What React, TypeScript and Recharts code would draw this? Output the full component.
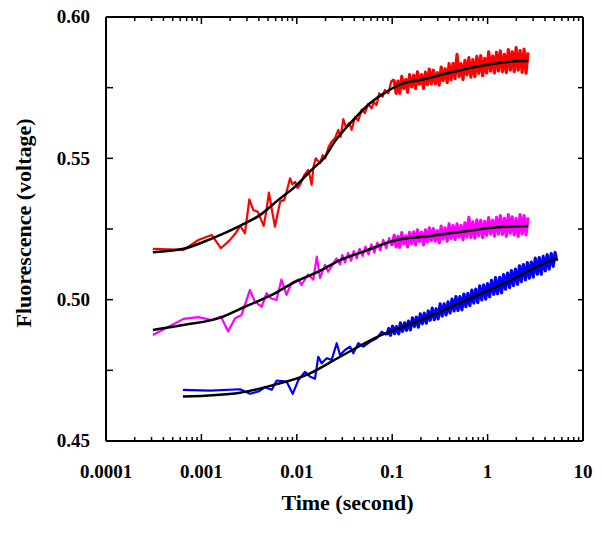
import React from 'react';
import { LineChart, Line, XAxis, YAxis, Label } from 'recharts';

const FONT = '"Liberation Serif", "Times New Roman", Times, serif';

// ---- axis ticks ----
const X_MAJOR = [0.0001, 0.001, 0.01, 0.1, 1, 10];
const X_MAJOR_LABELS = ['0.0001', '0.001', '0.01', '0.1', '1', '10'];
const X_TICKS = [
  0.0001, 0.0002, 0.0003, 0.0004, 0.0005, 0.0006, 0.0007, 0.0008, 0.0009,
  0.001, 0.002, 0.003, 0.004, 0.005, 0.006, 0.007, 0.008, 0.009,
  0.01, 0.02, 0.03, 0.04, 0.05, 0.06, 0.07, 0.08, 0.09,
  0.1, 0.2, 0.3, 0.4, 0.5, 0.6, 0.7, 0.8, 0.9,
  1, 2, 3, 4, 5, 6, 7, 8, 9, 10,
];
const Y_MAJOR = [0.45, 0.5, 0.55, 0.6];
const Y_MAJOR_LABELS = ['0.45', '0.50', '0.55', '0.60'];
const Y_TICKS = [0.45, 0.475, 0.5, 0.525, 0.55, 0.575, 0.6];

// ---- red trace ----
const RED_T = [
  0.00031, 0.00065, 0.00093, 0.00128, 0.0016, 0.00195, 0.00225, 0.00255, 0.00286, 0.00318,
  0.0035, 0.0039, 0.0042, 0.0045, 0.0048, 0.0051, 0.0055, 0.0059, 0.0063, 0.0067,
  0.0074, 0.008, 0.0085, 0.009, 0.0096, 0.0102, 0.0108, 0.012, 0.0132, 0.0138,
  0.0143, 0.015, 0.0158, 0.0175, 0.0187, 0.0198, 0.0215, 0.0232, 0.0251, 0.0272,
  0.0288, 0.0307, 0.0327, 0.0355, 0.0376, 0.0408, 0.0441, 0.0478, 0.0518, 0.0561,
  0.0608, 0.0643, 0.0685, 0.073, 0.0794, 0.0838, 0.091, 0.0988,
];
const RED_V = [
  0.518, 0.5176, 0.5211, 0.5229, 0.5182, 0.5208, 0.5232, 0.5261, 0.5235, 0.5355,
  0.5317, 0.5311, 0.5285, 0.5261, 0.5315, 0.5379, 0.5315, 0.5258, 0.5305, 0.5347,
  0.5353, 0.5395, 0.5429, 0.5408, 0.5417, 0.5395, 0.5406, 0.5441, 0.5459, 0.5433,
  0.5406, 0.5472, 0.55, 0.5483, 0.5511, 0.55, 0.554, 0.5559, 0.5571, 0.5601,
  0.5576, 0.5639, 0.561, 0.5625, 0.5601, 0.5646, 0.5633, 0.5672, 0.566, 0.5693,
  0.5677, 0.57, 0.5688, 0.573, 0.5718, 0.5742, 0.573, 0.5777,
];
// dense late part (shared sampling of red and magenta)
const RM_BAND_T = [
  0.105, 0.11, 0.115, 0.12, 0.126, 0.132, 0.139, 0.145, 0.152, 0.16,
  0.168, 0.176, 0.184, 0.193, 0.203, 0.213, 0.223, 0.234, 0.245, 0.257,
  0.27, 0.283, 0.297, 0.311, 0.326, 0.342, 0.359, 0.377, 0.395, 0.414,
  0.435, 0.456, 0.478, 0.502, 0.526, 0.552, 0.579, 0.607, 0.637, 0.668,
  0.7, 0.735, 0.771, 0.808, 0.848, 0.889, 0.933, 0.978, 1.026, 1.076,
  1.13, 1.18, 1.24, 1.3, 1.36, 1.43, 1.5, 1.57, 1.65, 1.73,
  1.81, 1.9, 1.99, 2.09, 2.19, 2.3, 2.41, 2.53, 2.65,
];
const RED_BAND_V = [
  0.5774, 0.573, 0.5773, 0.573, 0.579, 0.5747, 0.5779, 0.5734, 0.5796, 0.5753,
  0.5794, 0.5747, 0.5806, 0.5762, 0.5796, 0.5747, 0.5805, 0.5761, 0.5816, 0.5764,
  0.5812, 0.5764, 0.5803, 0.5759, 0.5823, 0.5775, 0.5817, 0.5768, 0.5835, 0.5778,
  0.5836, 0.5782, 0.5868, 0.5789, 0.5835, 0.5779, 0.5847, 0.5795, 0.5856, 0.5787,
  0.5849, 0.5789, 0.5861, 0.5801, 0.5863, 0.5792, 0.5854, 0.5802, 0.5877, 0.5809,
  0.5862, 0.5802, 0.5875, 0.5809, 0.588, 0.5807, 0.5868, 0.5803, 0.5885, 0.5812,
  0.5877, 0.5807, 0.5892, 0.5812, 0.5881, 0.5804, 0.5886, 0.5801, 0.5875,
];

// ---- magenta trace ----
const MAG_T = [
  0.00031, 0.00065, 0.00093, 0.00128, 0.0016, 0.00191, 0.00225, 0.00264, 0.00322, 0.00363,
  0.00428, 0.00482, 0.00535, 0.00612, 0.0069, 0.0078, 0.00878, 0.0104, 0.0112, 0.0131,
  0.0149, 0.0162, 0.0175, 0.0198, 0.0213, 0.0261,
  0.0284, 0.03, 0.032, 0.0345, 0.037, 0.0395, 0.0425, 0.0455, 0.049, 0.0525,
  0.0565, 0.0605, 0.065, 0.07, 0.075, 0.0805, 0.0865, 0.093, 0.099,
];
const MAG_V = [
  0.4875, 0.4932, 0.4938, 0.4928, 0.494, 0.4887, 0.4934, 0.4946, 0.5034, 0.4993,
  0.4975, 0.5023, 0.5005, 0.4999, 0.5071, 0.5017, 0.5059, 0.5071, 0.5052, 0.5089,
  0.5071, 0.5152, 0.5077, 0.5123, 0.5099, 0.5146,
  0.5125, 0.5158, 0.5132, 0.5165, 0.5138, 0.5172, 0.5146, 0.518, 0.5155, 0.5188,
  0.516, 0.5196, 0.5166, 0.5202, 0.5174, 0.5212, 0.5182, 0.5218, 0.519,
];
const MAG_BAND_V = [
  0.5228, 0.5187, 0.5224, 0.5185, 0.5237, 0.5198, 0.5226, 0.5187, 0.5238, 0.5199,
  0.524, 0.5194, 0.5247, 0.5206, 0.5239, 0.5194, 0.5247, 0.5205, 0.5254, 0.5209,
  0.5251, 0.5207, 0.5244, 0.5201, 0.526, 0.5215, 0.5254, 0.5207, 0.5268, 0.5217,
  0.5262, 0.5213, 0.5268, 0.5221, 0.5263, 0.5212, 0.5272, 0.5222, 0.5291, 0.522,
  0.5275, 0.5218, 0.5282, 0.5227, 0.5281, 0.522, 0.5277, 0.5228, 0.529, 0.5232,
  0.5281, 0.5225, 0.5291, 0.5232, 0.5297, 0.5231, 0.5288, 0.5224, 0.5301, 0.5235,
  0.5293, 0.5229, 0.5288, 0.5224, 0.5301, 0.5233, 0.5297, 0.5229, 0.5291,
];

// ---- blue trace ----
const BLUE_T = [
  0.00064, 0.00123, 0.00254, 0.00323, 0.00395, 0.00464, 0.00546, 0.00616, 0.00783, 0.00906,
  0.0104, 0.0122, 0.0137, 0.0155, 0.0168, 0.0182, 0.0206, 0.0232, 0.0262, 0.0284,
  0.032, 0.0361, 0.0391, 0.0441, 0.0498, 0.0585, 0.0688, 0.0777, 0.0875,
];
const BLUE_V = [
  0.4681, 0.4678, 0.4683, 0.4667, 0.4675, 0.469, 0.4681, 0.4714, 0.471, 0.4667,
  0.4716, 0.4745, 0.4728, 0.472, 0.4798, 0.4775, 0.4793, 0.4787, 0.4846, 0.4804,
  0.4822, 0.4834, 0.481, 0.4846, 0.4834, 0.4851, 0.4863, 0.4887, 0.4875,
];
const BLUE_BAND_T = [
  0.092, 0.096, 0.101, 0.106, 0.111, 0.117, 0.122, 0.128, 0.135, 0.141,
  0.148, 0.155, 0.163, 0.171, 0.179, 0.188, 0.197, 0.207, 0.217, 0.228,
  0.239, 0.25, 0.263, 0.276, 0.289, 0.303, 0.318, 0.334, 0.35, 0.367,
  0.385, 0.404, 0.424, 0.445, 0.466, 0.489, 0.513, 0.538, 0.565, 0.592,
  0.621, 0.652, 0.684, 0.717, 0.752, 0.789, 0.828, 0.869, 0.911, 0.956,
  1.0, 1.05, 1.1, 1.16, 1.21, 1.27, 1.34, 1.4, 1.47, 1.54,
  1.62, 1.7, 1.78, 1.87, 1.96, 2.06, 2.16, 2.26, 2.37, 2.49,
  2.61, 2.74, 2.87, 3.01, 3.16, 3.32, 3.48, 3.65, 3.83, 4.02,
  4.21, 4.42, 4.64, 4.87, 5.1, 5.3,
];
const BLUE_BAND_V = [
  0.4898, 0.4874, 0.4906, 0.488, 0.4905, 0.4879, 0.4918, 0.4888, 0.4918, 0.4891,
  0.4924, 0.4893, 0.4936, 0.4905, 0.4938, 0.4903, 0.495, 0.4915, 0.4952, 0.4917,
  0.496, 0.4927, 0.497, 0.4929, 0.4968, 0.4932, 0.4985, 0.4942, 0.4985, 0.4946,
  0.4992, 0.4953, 0.5002, 0.496, 0.5011, 0.4962, 0.5011, 0.4964, 0.502, 0.4975,
  0.5022, 0.4979, 0.5034, 0.4988, 0.5037, 0.499, 0.5049, 0.4999, 0.5052, 0.5002,
  0.5057, 0.501, 0.5068, 0.5019, 0.5078, 0.5021, 0.5079, 0.5024, 0.5089, 0.5037,
  0.5094, 0.5043, 0.5103, 0.505, 0.5108, 0.5054, 0.512, 0.5064, 0.5124, 0.507,
  0.5131, 0.5076, 0.5133, 0.508, 0.5147, 0.509, 0.5149, 0.509, 0.5153, 0.5102,
  0.5159, 0.5108, 0.5163, 0.5118, 0.5167, 0.5137,
];

// ---- fitted curves ----
const RED_FIT_T = [0.00031, 0.00065, 0.0013, 0.0026, 0.0041, 0.0064, 0.0096, 0.0143, 0.0198, 0.0251, 0.0391, 0.0585, 0.0875, 0.131, 0.196, 0.437, 0.98, 2.19, 2.67];
const RED_FIT_V = [0.5168, 0.518, 0.5217, 0.5263, 0.5299, 0.5353, 0.54, 0.5459, 0.5506, 0.556, 0.5636, 0.5695, 0.5736, 0.5765, 0.5777, 0.5806, 0.5831, 0.5844, 0.5845];
const MAG_FIT_T = [0.00031, 0.00067, 0.0015, 0.00285, 0.0054, 0.0096, 0.0168, 0.0284, 0.0498, 0.111, 0.249, 0.556, 1.245, 2.67];
const MAG_FIT_V = [0.4893, 0.4911, 0.4934, 0.4975, 0.5016, 0.5063, 0.5099, 0.514, 0.517, 0.5211, 0.5225, 0.5241, 0.5256, 0.5261];
const BLUE_FIT_T = [0.00064, 0.00254, 0.0057, 0.0127, 0.0284, 0.0745, 0.166, 0.373, 0.832, 1.86, 2.78, 5.3];
const BLUE_FIT_V = [0.4657, 0.4671, 0.4698, 0.4734, 0.4798, 0.4873, 0.4917, 0.4968, 0.502, 0.5074, 0.5105, 0.5147];

type Pt = { t: number; v: number };
const zip = (ts: number[], vs: number[]): Pt[] => {
  const n = Math.min(ts.length, vs.length);
  const out: Pt[] = [];
  for (let i = 0; i < n; i++) out.push({ t: ts[i], v: vs[i] });
  return out;
};
// band continues from the last point of the sparse early part
const withLead = (early: Pt[], band: Pt[]): Pt[] => [early[early.length - 1], ...band];

const redEarly = zip(RED_T, RED_V);
const redBand = withLead(redEarly, zip(RM_BAND_T, RED_BAND_V));
const magEarly = zip(MAG_T, MAG_V);
const magBand = withLead(magEarly, zip(RM_BAND_T, MAG_BAND_V));
const blueEarly = zip(BLUE_T, BLUE_V);
const blueBand = withLead(blueEarly, zip(BLUE_BAND_T, BLUE_BAND_V));
const redFit = zip(RED_FIT_T, RED_FIT_V);
const magFit = zip(MAG_FIT_T, MAG_FIT_V);
const blueFit = zip(BLUE_FIT_T, BLUE_FIT_V);

const majorIndex = (list: number[], v: number) =>
  list.findIndex((m) => Math.abs(m - v) < Math.abs(m) * 1e-6);

const textStyle = { fontFamily: FONT, fontWeight: 'bold' as const, fill: '#000' };

function BottomTick(props: any) {
  const { x, y, payload } = props;
  const i = majorIndex(X_MAJOR, payload.value);
  const major = i >= 0;
  return (
    <g>
      <line x1={x} x2={x} y1={y} y2={y - (major ? 7 : 4)} stroke="#000" strokeWidth={1.5} />
      {major && (
        <text x={x} y={y + 37} textAnchor="middle" fontSize={19} {...textStyle}>
          {X_MAJOR_LABELS[i]}
        </text>
      )}
    </g>
  );
}

function TopTick(props: any) {
  const { x, y, payload } = props;
  const major = majorIndex(X_MAJOR, payload.value) >= 0;
  return <line x1={x} x2={x} y1={y} y2={y + (major ? 7 : 4)} stroke="#000" strokeWidth={1.5} />;
}

function LeftTick(props: any) {
  const { x, y, payload } = props;
  const i = majorIndex(Y_MAJOR, payload.value);
  return (
    <g>
      <line x1={x} x2={x + 7} y1={y} y2={y} stroke="#000" strokeWidth={1.5} />
      {i >= 0 && (
        <text x={x - 16} y={y} dy="0.34em" textAnchor="end" fontSize={19} {...textStyle}>
          {Y_MAJOR_LABELS[i]}
        </text>
      )}
    </g>
  );
}

function RightTick(props: any) {
  const { x, y } = props;
  return <line x1={x} x2={x - 5} y1={y} y2={y} stroke="#000" strokeWidth={1.5} />;
}

const YTitle = (p: any) => {
  const vb = p.viewBox || { x: 0, y: 17, width: 106, height: 424 };
  const cx = vb.x + 23;
  const cy = vb.y + vb.height / 2 - 6;
  return (
    <text x={cx} y={cy} transform={`rotate(-90 ${cx} ${cy})`} textAnchor="middle" dominantBaseline="central" fontSize={22} {...textStyle}>
      Fluorescence (voltage)
    </text>
  );
};

const XTitle = (p: any) => {
  const vb = p.viewBox || { x: 106, y: 441, width: 477, height: 93 };
  const cx = vb.x + vb.width / 2 + 3;
  const cy = vb.y + 69;
  return (
    <text x={cx} y={cy} textAnchor="middle" fontSize={22} {...textStyle}>
      Time (second)
    </text>
  );
};

const axisLine = { stroke: '#000', strokeWidth: 2 };

const trace = (data: Pt[], color: string, width: number) => (
  <Line
    data={data}
    dataKey="v"
    type="linear"
    stroke={color}
    strokeWidth={width}
    dot={false}
    activeDot={false}
    isAnimationActive={false}
    strokeLinejoin="round"
  />
);

export default function App() {
  return (
    <div style={{ position: 'absolute', left: 0, top: 0, width: 602, height: 534, background: '#fff' }}>
      <LineChart width={602} height={534} margin={{ top: 0, right: 0, bottom: 0, left: 0 }}>
        <XAxis
          dataKey="t"
          type="number"
          scale="log"
          domain={[0.0001, 10]}
          allowDataOverflow
          ticks={X_TICKS}
          interval={0}
          height={93}
          tickSize={0}
          tickMargin={0}
          tickLine={false}
          axisLine={axisLine}
          tick={<BottomTick />}
        >
          <Label content={XTitle} />
        </XAxis>
        <XAxis
          xAxisId="top"
          orientation="top"
          dataKey="t"
          type="number"
          scale="log"
          domain={[0.0001, 10]}
          allowDataOverflow
          ticks={X_TICKS}
          interval={0}
          height={17}
          tickSize={0}
          tickMargin={0}
          tickLine={false}
          axisLine={axisLine}
          tick={<TopTick />}
        />
        <YAxis
          type="number"
          domain={[0.45, 0.6]}
          allowDataOverflow
          ticks={Y_TICKS}
          interval={0}
          width={106}
          tickSize={0}
          tickMargin={0}
          tickLine={false}
          axisLine={axisLine}
          tick={<LeftTick />}
        >
          <Label content={YTitle} />
        </YAxis>
        <YAxis
          yAxisId="right"
          orientation="right"
          type="number"
          domain={[0.45, 0.6]}
          allowDataOverflow
          ticks={Y_TICKS}
          interval={0}
          width={19}
          tickSize={0}
          tickMargin={0}
          tickLine={false}
          axisLine={axisLine}
          tick={<RightTick />}
        />
        {trace(redEarly, '#ff0000', 2.2)}
        {trace(redBand, '#ff0000', 3.2)}
        {trace(magEarly, '#ff00ff', 2.2)}
        {trace(magBand, '#ff00ff', 3.2)}
        {trace(blueEarly, '#0000ff', 2.2)}
        {trace(blueBand, '#0000ff', 3.2)}
        <Line data={redFit} dataKey="v" type="monotone" stroke="#000" strokeWidth={2.5} dot={false} activeDot={false} isAnimationActive={false} />
        <Line data={magFit} dataKey="v" type="monotone" stroke="#000" strokeWidth={2.5} dot={false} activeDot={false} isAnimationActive={false} />
        <Line data={blueFit} dataKey="v" type="monotone" stroke="#000" strokeWidth={2.5} dot={false} activeDot={false} isAnimationActive={false} />
      </LineChart>
    </div>
  );
}
